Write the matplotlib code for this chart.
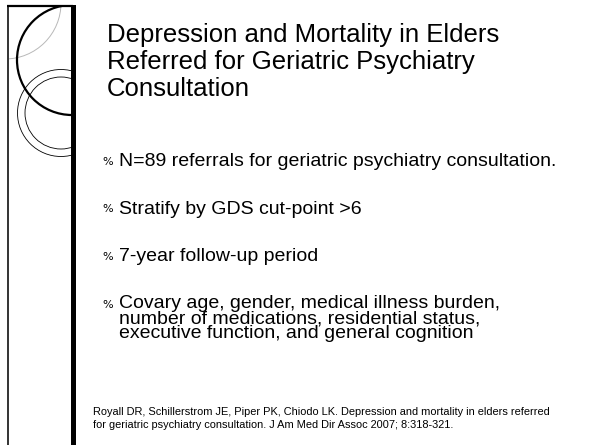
import matplotlib
matplotlib.use("Agg")
import matplotlib.pyplot as plt
from matplotlib.patches import Circle, Rectangle

# slide text
title_lines = ["Depression and Mortality in Elders",
               "Referred for Geriatric Psychiatry",
               "Consultation"]
bullets = [
    ["N=89 referrals for geriatric psychiatry consultation."],
    ["Stratify by GDS cut-point >6"],
    ["7-year follow-up period"],
    ["Covary age, gender, medical illness burden,",
     "number of medications, residential status,",
     "executive function, and general cognition"],
]
citation = ["Royall DR, Schillerstrom JE, Piper PK, Chiodo LK. Depression and mortality in elders referred",
            "for geriatric psychiatry consultation. J Am Med Dir Assoc 2007; 8:318-321."]

W, H = 592, 445
fig = plt.figure(figsize=(W / 100, H / 100), dpi=100)
ax = fig.add_axes([0, 0, 1, 1])
ax.set_xlim(0, W)
ax.set_ylim(H, 0)
ax.axis("off")

font = "Liberation Sans"

# decorative frame on the left
clip = Rectangle((8, 5), 65, H, transform=ax.transData)
arcs = [
    Circle((5, 3), 56, fill=False, ec="#b8b8b8", lw=0.7),
    Circle((72, 60), 55, fill=False, ec="black", lw=1.6),
    Circle((61, 113), 43.5, fill=False, ec="black", lw=0.6),
    Circle((61, 113), 36, fill=False, ec="black", lw=0.6),
]
for c in arcs:
    ax.add_patch(c)
    c.set_clip_path(clip)

ax.plot([8, 8], [5, H], color="#333333", lw=1.4, solid_capstyle="butt")
ax.plot([7, 73], [5.5, 5.5], color="black", lw=1.6, solid_capstyle="butt")
ax.add_patch(Rectangle((71, 4.5), 5, H, color="black", lw=0))

# multi-line text with va="baseline" sits on the baseline of its last line
title_base, title_step = 43, 26.5
ax.text(107, title_base + title_step * (len(title_lines) - 1), "\n".join(title_lines),
        fontsize=18.55, family=font, va="baseline", ha="left", color="black",
        linespacing=1.16)

# bullets
y, step, line_step = 166, 47.5, 14.8
for item in bullets:
    ax.text(102, y - 1, "%", fontsize=8, family="DejaVu Sans",
            va="baseline", ha="left", color="black")
    ax.text(119, y + line_step * (len(item) - 1), "\n".join(item), fontsize=14,
            family=font, va="baseline", ha="left", color="black", linespacing=0.84)
    y += step

# reference
ax.text(93, 428, "\n".join(citation), fontsize=7.95, family=font,
        va="baseline", ha="left", color="black", linespacing=1.4)

fig.savefig("out.png", dpi=100)
